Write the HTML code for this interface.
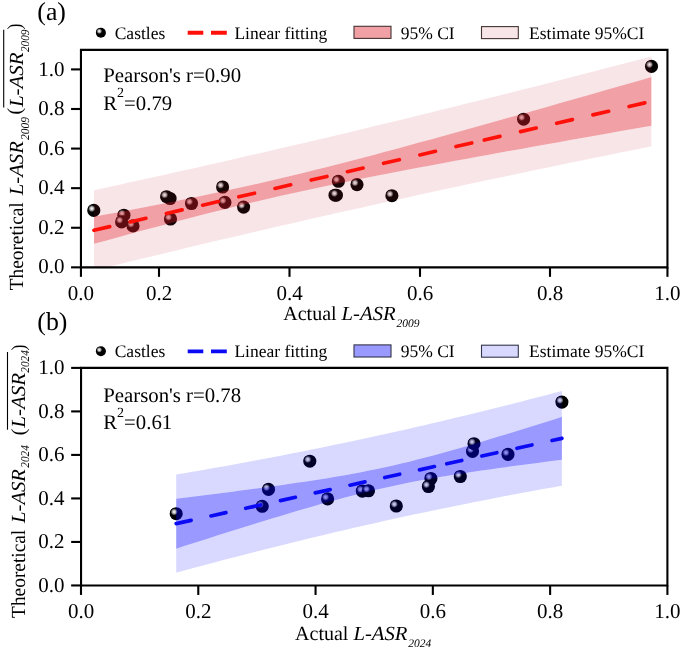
<!DOCTYPE html><html><head><meta charset="utf-8"><style>html,body{margin:0;padding:0;background:#fff;overflow:hidden}#w{will-change:transform;width:685px;height:647px}text{text-rendering:geometricPrecision}svg{display:block}</style></head><body><div id="w">
<svg width="685" height="647" viewBox="0 0 685 647">
<defs>
<radialGradient id="gh" cx="0.5" cy="0.5" r="0.5"><stop offset="0" stop-color="#f8f8f8"/><stop offset="0.28" stop-color="#dcdcdc"/><stop offset="0.6" stop-color="#8c8c8c"/><stop offset="0.85" stop-color="#282828"/><stop offset="1" stop-color="#000"/></radialGradient>
<clipPath id="clipa"><rect x="81" y="50" width="586.5" height="217.3"/></clipPath>
<clipPath id="clipb"><rect x="81" y="368" width="586.4" height="217.4"/></clipPath>
</defs>
<rect width="685" height="647" fill="#fff"/>
<circle cx="93.8" cy="210.4" r="6.55" fill="#000"/><circle cx="91.80" cy="208.60" r="3.7" fill="url(#gh)"/>
<circle cx="123.9" cy="215.2" r="6.55" fill="#000"/><circle cx="121.90" cy="213.40" r="3.7" fill="url(#gh)"/>
<circle cx="121.6" cy="221.9" r="6.55" fill="#000"/><circle cx="119.60" cy="220.10" r="3.7" fill="url(#gh)"/>
<circle cx="133" cy="225.9" r="6.55" fill="#000"/><circle cx="131.00" cy="224.10" r="3.7" fill="url(#gh)"/>
<circle cx="170.1" cy="198.5" r="6.55" fill="#000"/><circle cx="168.10" cy="196.70" r="3.7" fill="url(#gh)"/>
<circle cx="166.6" cy="196.7" r="6.55" fill="#000"/><circle cx="164.60" cy="194.90" r="3.7" fill="url(#gh)"/>
<circle cx="170.5" cy="219" r="6.55" fill="#000"/><circle cx="168.50" cy="217.20" r="3.7" fill="url(#gh)"/>
<circle cx="191.5" cy="203.5" r="6.55" fill="#000"/><circle cx="189.50" cy="201.70" r="3.7" fill="url(#gh)"/>
<circle cx="222.6" cy="187" r="6.55" fill="#000"/><circle cx="220.60" cy="185.20" r="3.7" fill="url(#gh)"/>
<circle cx="224.9" cy="202.4" r="6.55" fill="#000"/><circle cx="222.90" cy="200.60" r="3.7" fill="url(#gh)"/>
<circle cx="243.6" cy="207.1" r="6.55" fill="#000"/><circle cx="241.60" cy="205.30" r="3.7" fill="url(#gh)"/>
<circle cx="338.4" cy="181.3" r="6.55" fill="#000"/><circle cx="336.40" cy="179.50" r="3.7" fill="url(#gh)"/>
<circle cx="335.0" cy="195.2" r="6.55" fill="#000"/><circle cx="333.00" cy="193.40" r="3.7" fill="url(#gh)"/>
<circle cx="336.4" cy="195.2" r="6.55" fill="#000"/><circle cx="334.40" cy="193.40" r="3.7" fill="url(#gh)"/>
<circle cx="357" cy="184.6" r="6.55" fill="#000"/><circle cx="355.00" cy="182.80" r="3.7" fill="url(#gh)"/>
<circle cx="391.9" cy="195.7" r="6.55" fill="#000"/><circle cx="389.90" cy="193.90" r="3.7" fill="url(#gh)"/>
<circle cx="523.6" cy="119.2" r="6.55" fill="#000"/><circle cx="521.60" cy="117.40" r="3.7" fill="url(#gh)"/>
<circle cx="651.5" cy="66.4" r="6.55" fill="#000"/><circle cx="649.50" cy="64.60" r="3.7" fill="url(#gh)"/>
<g clip-path="url(#clipa)">
<path d="M94.00,190.19 L105.61,187.68 L117.22,185.15 L128.84,182.61 L140.45,180.07 L152.06,177.51 L163.68,174.93 L175.29,172.35 L186.90,169.76 L198.51,167.15 L210.12,164.53 L221.74,161.90 L233.35,159.26 L244.96,156.60 L256.57,153.93 L268.19,151.25 L279.80,148.56 L291.41,145.86 L303.02,143.14 L314.64,140.41 L326.25,137.67 L337.86,134.92 L349.48,132.16 L361.09,129.38 L372.70,126.59 L384.31,123.79 L395.93,120.98 L407.54,118.16 L419.15,115.32 L430.76,112.47 L442.38,109.62 L453.99,106.75 L465.60,103.87 L477.21,100.98 L488.82,98.08 L500.44,95.17 L512.05,92.25 L523.66,89.32 L535.28,86.38 L546.89,83.42 L558.50,80.46 L570.11,77.49 L581.72,74.52 L593.34,71.53 L604.95,68.53 L616.56,65.53 L628.17,62.51 L639.79,59.49 L651.40,56.46 L651.40,77.06 L639.79,80.38 L628.17,83.71 L616.56,87.03 L604.95,90.35 L593.34,93.66 L581.72,96.97 L570.11,100.28 L558.50,103.58 L546.89,106.88 L535.28,110.17 L523.66,113.45 L512.05,116.73 L500.44,120.00 L488.82,123.26 L477.21,126.52 L465.60,129.76 L453.99,132.99 L442.38,136.21 L430.76,139.41 L419.15,142.60 L407.54,145.77 L395.93,148.91 L384.31,152.04 L372.70,155.14 L361.09,158.20 L349.48,161.24 L337.86,164.24 L326.25,167.20 L314.64,170.11 L303.02,172.98 L291.41,175.80 L279.80,178.56 L268.19,181.28 L256.57,183.93 L244.96,186.54 L233.35,189.09 L221.74,191.59 L210.12,194.05 L198.51,196.46 L186.90,198.83 L175.29,201.17 L163.68,203.47 L152.06,205.74 L140.45,207.99 L128.84,210.21 L117.22,212.42 L105.61,214.60 L94.00,216.77 Z" fill="rgb(200,40,60)" fill-opacity="0.12"/>
<path d="M94.00,243.83 L105.61,240.63 L117.22,237.44 L128.84,234.27 L140.45,231.12 L152.06,228.00 L163.68,224.90 L175.29,221.83 L186.90,218.79 L198.51,215.79 L210.12,212.83 L221.74,209.92 L233.35,207.05 L244.96,204.23 L256.57,201.46 L268.19,198.75 L279.80,196.09 L291.41,193.48 L303.02,190.93 L314.64,188.42 L326.25,185.96 L337.86,183.55 L349.48,181.18 L361.09,178.84 L372.70,176.54 L384.31,174.26 L395.93,172.01 L407.54,169.79 L419.15,167.59 L430.76,165.40 L442.38,163.23 L453.99,161.08 L465.60,158.94 L477.21,156.81 L488.82,154.69 L500.44,152.58 L512.05,150.48 L523.66,148.39 L535.28,146.30 L546.89,144.22 L558.50,142.14 L570.11,140.07 L581.72,138.01 L593.34,135.95 L604.95,133.89 L616.56,131.83 L628.17,129.78 L639.79,127.74 L651.40,125.69 L651.40,146.28 L639.79,148.63 L628.17,150.98 L616.56,153.34 L604.95,155.70 L593.34,158.08 L581.72,160.46 L570.11,162.86 L558.50,165.26 L546.89,167.67 L535.28,170.09 L523.66,172.52 L512.05,174.96 L500.44,177.41 L488.82,179.87 L477.21,182.35 L465.60,184.83 L453.99,187.32 L442.38,189.82 L430.76,192.34 L419.15,194.86 L407.54,197.40 L395.93,199.95 L384.31,202.51 L372.70,205.08 L361.09,207.67 L349.48,210.26 L337.86,212.87 L326.25,215.49 L314.64,218.12 L303.02,220.76 L291.41,223.42 L279.80,226.09 L268.19,228.77 L256.57,231.46 L244.96,234.16 L233.35,236.88 L221.74,239.61 L210.12,242.35 L198.51,245.10 L186.90,247.87 L175.29,250.64 L163.68,253.43 L152.06,256.23 L140.45,259.05 L128.84,261.87 L117.22,264.71 L105.61,267.55 L94.00,270.41 Z" fill="rgb(200,40,60)" fill-opacity="0.12"/>
<path d="M94.00,216.77 L105.61,214.60 L117.22,212.42 L128.84,210.21 L140.45,207.99 L152.06,205.74 L163.68,203.47 L175.29,201.17 L186.90,198.83 L198.51,196.46 L210.12,194.05 L221.74,191.59 L233.35,189.09 L244.96,186.54 L256.57,183.93 L268.19,181.28 L279.80,178.56 L291.41,175.80 L303.02,172.98 L314.64,170.11 L326.25,167.20 L337.86,164.24 L349.48,161.24 L361.09,158.20 L372.70,155.14 L384.31,152.04 L395.93,148.91 L407.54,145.77 L419.15,142.60 L430.76,139.41 L442.38,136.21 L453.99,132.99 L465.60,129.76 L477.21,126.52 L488.82,123.26 L500.44,120.00 L512.05,116.73 L523.66,113.45 L535.28,110.17 L546.89,106.88 L558.50,103.58 L570.11,100.28 L581.72,96.97 L593.34,93.66 L604.95,90.35 L616.56,87.03 L628.17,83.71 L639.79,80.38 L651.40,77.06 L651.40,125.69 L639.79,127.74 L628.17,129.78 L616.56,131.83 L604.95,133.89 L593.34,135.95 L581.72,138.01 L570.11,140.07 L558.50,142.14 L546.89,144.22 L535.28,146.30 L523.66,148.39 L512.05,150.48 L500.44,152.58 L488.82,154.69 L477.21,156.81 L465.60,158.94 L453.99,161.08 L442.38,163.23 L430.76,165.40 L419.15,167.59 L407.54,169.79 L395.93,172.01 L384.31,174.26 L372.70,176.54 L361.09,178.84 L349.48,181.18 L337.86,183.55 L326.25,185.96 L314.64,188.42 L303.02,190.93 L291.41,193.48 L279.80,196.09 L268.19,198.75 L256.57,201.46 L244.96,204.23 L233.35,207.05 L221.74,209.92 L210.12,212.83 L198.51,215.79 L186.90,218.79 L175.29,221.83 L163.68,224.90 L152.06,228.00 L140.45,231.12 L128.84,234.27 L117.22,237.44 L105.61,240.63 L94.00,243.83 Z" fill="rgb(222,30,42)" fill-opacity="0.42"/>
<path d="M94.00,230.30 L109.70,226.67 M130.20,221.93 L145.90,218.30 M166.40,213.55 L182.10,209.92 M202.60,205.18 L218.30,201.55 M238.80,196.81 L254.50,193.18 M275.00,188.43 L290.70,184.80 M311.20,180.06 L326.90,176.43 M347.40,171.69 L363.10,168.06 M383.60,163.32 L399.30,159.68 M419.80,154.94 L435.50,151.31 M456.00,146.57 L471.70,142.94 M484.30,140.02 L500.00,136.39 M520.50,131.65 L536.20,128.02 M556.70,123.28 L572.40,119.65 M592.90,114.90 L608.60,111.27 M629.10,106.53 L644.80,102.90" stroke="#ff1008" stroke-width="3.7" stroke-linecap="round" fill="none"/>
</g>
<path d="M80.95,49.86 H667.45 V267.35 H80.95 Z" fill="none" stroke="#000" stroke-width="2.1"/>
<line x1="71.05" y1="267.35" x2="80.95" y2="267.35" stroke="#000" stroke-width="2.1"/>
<text x="64.5" y="273.45" font-size="21" text-anchor="end" font-family="Liberation Serif, serif">0.0</text>
<line x1="71.05" y1="227.76" x2="80.95" y2="227.76" stroke="#000" stroke-width="2.1"/>
<text x="64.5" y="233.86" font-size="21" text-anchor="end" font-family="Liberation Serif, serif">0.2</text>
<line x1="71.05" y1="188.17" x2="80.95" y2="188.17" stroke="#000" stroke-width="2.1"/>
<text x="64.5" y="194.27" font-size="21" text-anchor="end" font-family="Liberation Serif, serif">0.4</text>
<line x1="71.05" y1="148.58" x2="80.95" y2="148.58" stroke="#000" stroke-width="2.1"/>
<text x="64.5" y="154.68" font-size="21" text-anchor="end" font-family="Liberation Serif, serif">0.6</text>
<line x1="71.05" y1="108.99" x2="80.95" y2="108.99" stroke="#000" stroke-width="2.1"/>
<text x="64.5" y="115.09" font-size="21" text-anchor="end" font-family="Liberation Serif, serif">0.8</text>
<line x1="71.05" y1="69.40" x2="80.95" y2="69.40" stroke="#000" stroke-width="2.1"/>
<text x="64.5" y="75.50" font-size="21" text-anchor="end" font-family="Liberation Serif, serif">1.0</text>
<line x1="80.95" y1="267.35" x2="80.95" y2="276.85" stroke="#000" stroke-width="2.1"/>
<text x="80.95" y="299.75" font-size="21" text-anchor="middle" font-family="Liberation Serif, serif">0.0</text>
<line x1="159.00" y1="267.35" x2="159.00" y2="276.85" stroke="#000" stroke-width="2.1"/>
<text x="159.00" y="299.75" font-size="21" text-anchor="middle" font-family="Liberation Serif, serif">0.2</text>
<line x1="289.50" y1="267.35" x2="289.50" y2="276.85" stroke="#000" stroke-width="2.1"/>
<text x="289.50" y="299.75" font-size="21" text-anchor="middle" font-family="Liberation Serif, serif">0.4</text>
<line x1="420.00" y1="267.35" x2="420.00" y2="276.85" stroke="#000" stroke-width="2.1"/>
<text x="420.00" y="299.75" font-size="21" text-anchor="middle" font-family="Liberation Serif, serif">0.6</text>
<line x1="550.00" y1="267.35" x2="550.00" y2="276.85" stroke="#000" stroke-width="2.1"/>
<text x="550.00" y="299.75" font-size="21" text-anchor="middle" font-family="Liberation Serif, serif">0.8</text>
<line x1="667.45" y1="267.35" x2="667.45" y2="276.85" stroke="#000" stroke-width="2.1"/>
<text x="667.45" y="299.75" font-size="21" text-anchor="middle" font-family="Liberation Serif, serif">1.0</text>
<circle cx="176.2" cy="513.7" r="6.55" fill="#000"/><circle cx="174.20" cy="511.90" r="3.7" fill="url(#gh)"/>
<circle cx="262.2" cy="506.3" r="6.55" fill="#000"/><circle cx="260.20" cy="504.50" r="3.7" fill="url(#gh)"/>
<circle cx="268.5" cy="489.4" r="6.55" fill="#000"/><circle cx="266.50" cy="487.60" r="3.7" fill="url(#gh)"/>
<circle cx="309.8" cy="461.2" r="6.55" fill="#000"/><circle cx="307.80" cy="459.40" r="3.7" fill="url(#gh)"/>
<circle cx="327.6" cy="498.9" r="6.55" fill="#000"/><circle cx="325.60" cy="497.10" r="3.7" fill="url(#gh)"/>
<circle cx="362.3" cy="491.1" r="6.55" fill="#000"/><circle cx="360.30" cy="489.30" r="3.7" fill="url(#gh)"/>
<circle cx="368.5" cy="490.8" r="6.55" fill="#000"/><circle cx="366.50" cy="489.00" r="3.7" fill="url(#gh)"/>
<circle cx="396.3" cy="506" r="6.55" fill="#000"/><circle cx="394.30" cy="504.20" r="3.7" fill="url(#gh)"/>
<circle cx="430.9" cy="478.5" r="6.55" fill="#000"/><circle cx="428.90" cy="476.70" r="3.7" fill="url(#gh)"/>
<circle cx="428.4" cy="486.5" r="6.55" fill="#000"/><circle cx="426.40" cy="484.70" r="3.7" fill="url(#gh)"/>
<circle cx="460.3" cy="476.5" r="6.55" fill="#000"/><circle cx="458.30" cy="474.70" r="3.7" fill="url(#gh)"/>
<circle cx="472.5" cy="451.4" r="6.55" fill="#000"/><circle cx="470.50" cy="449.60" r="3.7" fill="url(#gh)"/>
<circle cx="474" cy="443.7" r="6.55" fill="#000"/><circle cx="472.00" cy="441.90" r="3.7" fill="url(#gh)"/>
<circle cx="508" cy="454.4" r="6.55" fill="#000"/><circle cx="506.00" cy="452.60" r="3.7" fill="url(#gh)"/>
<circle cx="561.9" cy="402.1" r="6.55" fill="#000"/><circle cx="559.90" cy="400.30" r="3.7" fill="url(#gh)"/>
<g clip-path="url(#clipb)">
<path d="M176.20,474.61 L184.24,473.24 L192.27,471.84 L200.31,470.44 L208.34,469.02 L216.38,467.59 L224.41,466.15 L232.45,464.69 L240.48,463.22 L248.52,461.73 L256.55,460.23 L264.59,458.71 L272.62,457.18 L280.66,455.63 L288.70,454.07 L296.73,452.49 L304.77,450.90 L312.80,449.29 L320.84,447.66 L328.87,446.01 L336.91,444.35 L344.94,442.67 L352.98,440.98 L361.01,439.27 L369.05,437.54 L377.09,435.79 L385.12,434.03 L393.16,432.24 L401.19,430.44 L409.23,428.63 L417.26,426.79 L425.30,424.94 L433.33,423.07 L441.37,421.19 L449.40,419.29 L457.44,417.37 L465.47,415.43 L473.51,413.48 L481.55,411.51 L489.58,409.53 L497.62,407.53 L505.65,405.51 L513.69,403.48 L521.72,401.43 L529.76,399.37 L537.79,397.29 L545.83,395.20 L553.86,393.10 L561.90,390.98 L561.90,416.85 L553.86,419.39 L545.83,421.92 L537.79,424.44 L529.76,426.95 L521.72,429.45 L513.69,431.93 L505.65,434.39 L497.62,436.84 L489.58,439.27 L481.55,441.68 L473.51,444.05 L465.47,446.40 L457.44,448.72 L449.40,451.00 L441.37,453.23 L433.33,455.42 L425.30,457.55 L417.26,459.62 L409.23,461.63 L401.19,463.58 L393.16,465.45 L385.12,467.24 L377.09,468.97 L369.05,470.62 L361.01,472.20 L352.98,473.71 L344.94,475.16 L336.91,476.56 L328.87,477.90 L320.84,479.20 L312.80,480.46 L304.77,481.68 L296.73,482.87 L288.70,484.04 L280.66,485.17 L272.62,486.29 L264.59,487.39 L256.55,488.47 L248.52,489.53 L240.48,490.59 L232.45,491.63 L224.41,492.66 L216.38,493.68 L208.34,494.69 L200.31,495.70 L192.27,496.70 L184.24,497.69 L176.20,498.68 Z" fill="rgb(0,0,255)" fill-opacity="0.15"/>
<path d="M176.20,548.64 L184.24,546.07 L192.27,543.51 L200.31,540.95 L208.34,538.40 L216.38,535.86 L224.41,533.32 L232.45,530.80 L240.48,528.28 L248.52,525.78 L256.55,523.29 L264.59,520.82 L272.62,518.36 L280.66,515.92 L288.70,513.51 L296.73,511.12 L304.77,508.75 L312.80,506.42 L320.84,504.12 L328.87,501.87 L336.91,499.66 L344.94,497.50 L352.98,495.40 L361.01,493.35 L369.05,491.38 L377.09,489.47 L385.12,487.64 L393.16,485.88 L401.19,484.20 L409.23,482.59 L417.26,481.04 L425.30,479.56 L433.33,478.14 L441.37,476.77 L449.40,475.45 L457.44,474.17 L465.47,472.93 L473.51,471.73 L481.55,470.55 L489.58,469.40 L497.62,468.27 L505.65,467.17 L513.69,466.08 L521.72,465.01 L529.76,463.95 L537.79,462.90 L545.83,461.87 L553.86,460.84 L561.90,459.82 L561.90,485.70 L553.86,487.13 L545.83,488.58 L537.79,490.05 L529.76,491.53 L521.72,493.02 L513.69,494.53 L505.65,496.05 L497.62,497.59 L489.58,499.15 L481.55,500.72 L473.51,502.30 L465.47,503.91 L457.44,505.52 L449.40,507.16 L441.37,508.81 L433.33,510.48 L425.30,512.17 L417.26,513.87 L409.23,515.59 L401.19,517.33 L393.16,519.09 L385.12,520.86 L377.09,522.65 L369.05,524.46 L361.01,526.28 L352.98,528.12 L344.94,529.98 L336.91,531.86 L328.87,533.75 L320.84,535.67 L312.80,537.59 L304.77,539.54 L296.73,541.50 L288.70,543.47 L280.66,545.46 L272.62,547.47 L264.59,549.50 L256.55,551.53 L248.52,553.59 L240.48,555.66 L232.45,557.74 L224.41,559.84 L216.38,561.95 L208.34,564.07 L200.31,566.21 L192.27,568.36 L184.24,570.52 L176.20,572.70 Z" fill="rgb(0,0,255)" fill-opacity="0.15"/>
<path d="M176.20,498.68 L184.24,497.69 L192.27,496.70 L200.31,495.70 L208.34,494.69 L216.38,493.68 L224.41,492.66 L232.45,491.63 L240.48,490.59 L248.52,489.53 L256.55,488.47 L264.59,487.39 L272.62,486.29 L280.66,485.17 L288.70,484.04 L296.73,482.87 L304.77,481.68 L312.80,480.46 L320.84,479.20 L328.87,477.90 L336.91,476.56 L344.94,475.16 L352.98,473.71 L361.01,472.20 L369.05,470.62 L377.09,468.97 L385.12,467.24 L393.16,465.45 L401.19,463.58 L409.23,461.63 L417.26,459.62 L425.30,457.55 L433.33,455.42 L441.37,453.23 L449.40,451.00 L457.44,448.72 L465.47,446.40 L473.51,444.05 L481.55,441.68 L489.58,439.27 L497.62,436.84 L505.65,434.39 L513.69,431.93 L521.72,429.45 L529.76,426.95 L537.79,424.44 L545.83,421.92 L553.86,419.39 L561.90,416.85 L561.90,459.82 L553.86,460.84 L545.83,461.87 L537.79,462.90 L529.76,463.95 L521.72,465.01 L513.69,466.08 L505.65,467.17 L497.62,468.27 L489.58,469.40 L481.55,470.55 L473.51,471.73 L465.47,472.93 L457.44,474.17 L449.40,475.45 L441.37,476.77 L433.33,478.14 L425.30,479.56 L417.26,481.04 L409.23,482.59 L401.19,484.20 L393.16,485.88 L385.12,487.64 L377.09,489.47 L369.05,491.38 L361.01,493.35 L352.98,495.40 L344.94,497.50 L336.91,499.66 L328.87,501.87 L320.84,504.12 L312.80,506.42 L304.77,508.75 L296.73,511.12 L288.70,513.51 L280.66,515.92 L272.62,518.36 L264.59,520.82 L256.55,523.29 L248.52,525.78 L240.48,528.28 L232.45,530.80 L224.41,533.32 L216.38,535.86 L208.34,538.40 L200.31,540.95 L192.27,543.51 L184.24,546.07 L176.20,548.64 Z" fill="rgb(0,0,255)" fill-opacity="0.4"/>
<path d="M176.20,523.66 L191.10,520.36 M210.96,515.97 L225.86,512.67 M245.72,508.28 L260.62,504.98 M280.48,500.59 L295.38,497.29 M315.24,492.90 L330.14,489.60 M350.00,485.21 L364.90,481.92 M384.76,477.52 L399.66,474.23 M419.52,469.83 L434.42,466.54 M446.80,463.80 L461.70,460.50 M481.90,456.03 L496.80,452.74 M517.00,448.27 L531.90,444.97 M552.10,440.51 L561.90,438.34" stroke="#0a0af5" stroke-width="3.7" stroke-linecap="round" fill="none"/>
</g>
<path d="M81.05,367.9 H667.4 V585.45 H81.05 Z" fill="none" stroke="#000" stroke-width="2.1"/>
<line x1="71.14999999999999" y1="585.45" x2="81.05" y2="585.45" stroke="#000" stroke-width="2.1"/>
<text x="64.5" y="591.55" font-size="21" text-anchor="end" font-family="Liberation Serif, serif">0.0</text>
<line x1="71.14999999999999" y1="541.94" x2="81.05" y2="541.94" stroke="#000" stroke-width="2.1"/>
<text x="64.5" y="548.04" font-size="21" text-anchor="end" font-family="Liberation Serif, serif">0.2</text>
<line x1="71.14999999999999" y1="498.43" x2="81.05" y2="498.43" stroke="#000" stroke-width="2.1"/>
<text x="64.5" y="504.53" font-size="21" text-anchor="end" font-family="Liberation Serif, serif">0.4</text>
<line x1="71.14999999999999" y1="454.92" x2="81.05" y2="454.92" stroke="#000" stroke-width="2.1"/>
<text x="64.5" y="461.02" font-size="21" text-anchor="end" font-family="Liberation Serif, serif">0.6</text>
<line x1="71.14999999999999" y1="411.41" x2="81.05" y2="411.41" stroke="#000" stroke-width="2.1"/>
<text x="64.5" y="417.51" font-size="21" text-anchor="end" font-family="Liberation Serif, serif">0.8</text>
<line x1="71.14999999999999" y1="367.90" x2="81.05" y2="367.90" stroke="#000" stroke-width="2.1"/>
<text x="64.5" y="374.00" font-size="21" text-anchor="end" font-family="Liberation Serif, serif">1.0</text>
<line x1="81.00" y1="585.45" x2="81.00" y2="594.95" stroke="#000" stroke-width="2.1"/>
<text x="81.00" y="617.85" font-size="21" text-anchor="middle" font-family="Liberation Serif, serif">0.0</text>
<line x1="198.28" y1="585.45" x2="198.28" y2="594.95" stroke="#000" stroke-width="2.1"/>
<text x="198.28" y="617.85" font-size="21" text-anchor="middle" font-family="Liberation Serif, serif">0.2</text>
<line x1="315.56" y1="585.45" x2="315.56" y2="594.95" stroke="#000" stroke-width="2.1"/>
<text x="315.56" y="617.85" font-size="21" text-anchor="middle" font-family="Liberation Serif, serif">0.4</text>
<line x1="432.84" y1="585.45" x2="432.84" y2="594.95" stroke="#000" stroke-width="2.1"/>
<text x="432.84" y="617.85" font-size="21" text-anchor="middle" font-family="Liberation Serif, serif">0.6</text>
<line x1="550.12" y1="585.45" x2="550.12" y2="594.95" stroke="#000" stroke-width="2.1"/>
<text x="550.12" y="617.85" font-size="21" text-anchor="middle" font-family="Liberation Serif, serif">0.8</text>
<line x1="667.40" y1="585.45" x2="667.40" y2="594.95" stroke="#000" stroke-width="2.1"/>
<text x="667.40" y="617.85" font-size="21" text-anchor="middle" font-family="Liberation Serif, serif">1.0</text>
<circle cx="100.9" cy="32.7" r="5.0" fill="#000"/><circle cx="99.3" cy="31.2" r="2.9" fill="url(#gh)"/>
<text x="114.7" y="38.5" font-size="17.5" font-family="Liberation Serif, serif">Castles</text>
<path d="M187.7,32.75 H203.3 M211.0,32.75 H226.8" stroke="#ff1008" stroke-width="3.9"/>
<text x="234.4" y="38.5" font-size="17.5" font-family="Liberation Serif, serif">Linear fitting</text>
<rect x="354" y="26.3" width="37" height="12.1" fill="rgb(222,30,42)" fill-opacity="0.42" stroke="#463434" stroke-width="1.1"/>
<text x="400.7" y="38.5" font-size="17.5" font-family="Liberation Serif, serif">95% CI</text>
<rect x="481.5" y="26.6" width="36.8" height="12" fill="rgb(200,40,60)" fill-opacity="0.12" stroke="#463434" stroke-width="1.1"/>
<text x="529.1" y="38.5" font-size="17.5" font-family="Liberation Serif, serif">Estimate 95%CI</text>
<circle cx="100.9" cy="351.3" r="5.0" fill="#000"/><circle cx="99.3" cy="349.8" r="2.9" fill="url(#gh)"/>
<text x="114.7" y="357.1" font-size="17.5" font-family="Liberation Serif, serif">Castles</text>
<path d="M187.7,351.35 H203.3 M211.0,351.35 H226.8" stroke="#0a0af5" stroke-width="3.9"/>
<text x="234.4" y="357.1" font-size="17.5" font-family="Liberation Serif, serif">Linear fitting</text>
<rect x="354" y="344.90000000000003" width="37" height="12.1" fill="rgb(0,0,255)" fill-opacity="0.4" stroke="#34344a" stroke-width="1.1"/>
<text x="400.7" y="357.1" font-size="17.5" font-family="Liberation Serif, serif">95% CI</text>
<rect x="481.5" y="345.20000000000005" width="36.8" height="12" fill="rgb(0,0,255)" fill-opacity="0.15" stroke="#34344a" stroke-width="1.1"/>
<text x="529.1" y="357.1" font-size="17.5" font-family="Liberation Serif, serif">Estimate 95%CI</text>
<text x="37.3" y="19.9" font-size="25.8" font-family="Liberation Serif, serif">(a)</text>
<text x="37.3" y="330.3" font-size="25.8" font-family="Liberation Serif, serif">(b)</text>
<text x="103.2" y="81.9" font-size="20.8" font-family="Liberation Serif, serif">Pearson's r=0.90</text>
<text x="103.2" y="109.5" font-size="20.8" font-family="Liberation Serif, serif">R<tspan font-size="14" dy="-12.8">2</tspan><tspan dy="12.8">=0.79</tspan></text>
<text x="103.2" y="401.79999999999995" font-size="20.8" font-family="Liberation Serif, serif">Pearson's r=0.78</text>
<text x="103.2" y="429.4" font-size="20.8" font-family="Liberation Serif, serif">R<tspan font-size="14" dy="-12.8">2</tspan><tspan dy="12.8">=0.61</tspan></text>
<text x="283.3" y="320.3" font-size="20" font-family="Liberation Serif, serif">Actual <tspan font-style="italic" textLength="54.0" lengthAdjust="spacingAndGlyphs">L-ASR</tspan><tspan font-style="italic" font-size="11.5" dx="0.9" dy="6.3">2009</tspan></text>
<text x="295.1" y="640.2" font-size="20" font-family="Liberation Serif, serif">Actual <tspan font-style="italic" textLength="54.0" lengthAdjust="spacingAndGlyphs">L-ASR</tspan><tspan font-style="italic" font-size="11.5" dx="0.9" dy="6.3">2024</tspan></text>
<text transform="translate(22.60,290.29) rotate(-90)" x="0" y="0" font-size="20" textLength="88.03" lengthAdjust="spacingAndGlyphs" font-family="Liberation Serif, serif">Theoretical</text>
<text transform="translate(22.60,195.29) rotate(-90)" x="0" y="0" font-size="20" font-style="italic" textLength="54.12" lengthAdjust="spacingAndGlyphs" font-family="Liberation Serif, serif">L-ASR</text>
<text transform="translate(28.90,139.90) rotate(-90)" x="0" y="0" font-size="12" font-style="italic" textLength="22.97" lengthAdjust="spacingAndGlyphs" font-family="Liberation Serif, serif">2009</text>
<text transform="translate(20.60,114.58) rotate(-90)" x="0" y="0" font-size="20" textLength="6.53" lengthAdjust="spacingAndGlyphs" font-family="Liberation Serif, serif">(</text>
<text transform="translate(22.60,107.09) rotate(-90)" x="0" y="0" font-size="20" font-style="italic" textLength="54.72" lengthAdjust="spacingAndGlyphs" font-family="Liberation Serif, serif">L-ASR</text>
<text transform="translate(28.90,52.10) rotate(-90)" x="0" y="0" font-size="12" font-style="italic" textLength="22.47" lengthAdjust="spacingAndGlyphs" font-family="Liberation Serif, serif">2009</text>
<text transform="translate(20.60,29.43) rotate(-90)" x="0" y="0" font-size="20" textLength="5.89" lengthAdjust="spacingAndGlyphs" font-family="Liberation Serif, serif">)</text>
<text transform="translate(24.80,617.89) rotate(-90)" x="0" y="0" font-size="20" textLength="88.13" lengthAdjust="spacingAndGlyphs" font-family="Liberation Serif, serif">Theoretical</text>
<text transform="translate(24.80,522.89) rotate(-90)" x="0" y="0" font-size="20" font-style="italic" textLength="53.72" lengthAdjust="spacingAndGlyphs" font-family="Liberation Serif, serif">L-ASR</text>
<text transform="translate(29.00,467.70) rotate(-90)" x="0" y="0" font-size="12" font-style="italic" textLength="22.48" lengthAdjust="spacingAndGlyphs" font-family="Liberation Serif, serif">2024</text>
<text transform="translate(24.60,435.28) rotate(-90)" x="0" y="0" font-size="20" textLength="6.53" lengthAdjust="spacingAndGlyphs" font-family="Liberation Serif, serif">(</text>
<text transform="translate(24.80,427.69) rotate(-90)" x="0" y="0" font-size="20" font-style="italic" textLength="54.72" lengthAdjust="spacingAndGlyphs" font-family="Liberation Serif, serif">L-ASR</text>
<text transform="translate(29.00,372.70) rotate(-90)" x="0" y="0" font-size="12" font-style="italic" textLength="22.48" lengthAdjust="spacingAndGlyphs" font-family="Liberation Serif, serif">2024</text>
<text transform="translate(24.60,350.43) rotate(-90)" x="0" y="0" font-size="20" textLength="5.89" lengthAdjust="spacingAndGlyphs" font-family="Liberation Serif, serif">)</text>
<line x1="3.7" y1="107.5" x2="3.7" y2="29.8" stroke="#000" stroke-width="1.1"/>
<line x1="7.5" y1="429.7" x2="7.5" y2="352" stroke="#000" stroke-width="1.1"/>
</svg></div></body></html>
